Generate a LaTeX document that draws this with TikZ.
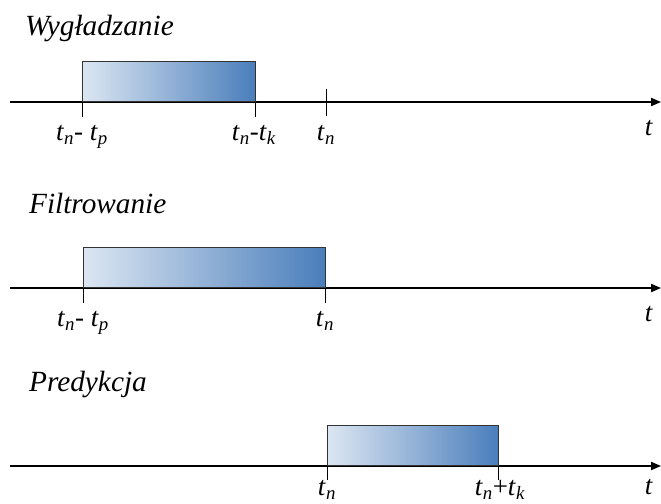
\documentclass[tikz,border=0pt]{standalone}
\usepackage{fontspec}
\setmainfont{Liberation Serif}
\usetikzlibrary{arrows.meta, positioning, calc}

\definecolor{jasny}{HTML}{DCE6F2}
\definecolor{ciemny}{HTML}{4A7EBB}

\newcommand{\ts}[1]{\textit{t}\textsubscript{\textit{#1}}}

\begin{document}
\begin{tikzpicture}[x=0.03cm, y=-0.03cm, >={Triangle[length=8.5pt, width=7pt]},
    os/.style={->, line width=1.2pt},
    okno/.style={draw=black!80, line width=0.8pt, left color=jasny, right color=ciemny,
                 anchor=south west, minimum height=1.2cm, inner sep=0pt},
    kreska/.style={line width=0.8pt},
    opis/.style={font=\fontsize{23}{26}\selectfont, anchor=base},
    tytul/.style={font=\itshape\fontsize{25}{28}\selectfont, anchor=base west}]
    \useasboundingbox (0,0) rectangle (661,504);

    % Wygladzanie
    \node[tytul] (tyt1) at (21,35) {Wygładzanie};
    \coordinate (p1) at (10,102);
    \coordinate (k1) at (661,102);
    \draw[os] (p1) -- (k1);
    \node[okno, minimum width=5.19cm] (b1) at (82,102) {};
    \node[opis] (l1a) at (82,140) {\ts{n}- \ts{p}};
    \node[opis] (l1b) at (254,140) {\ts{n}-\ts{k}};
    \node[opis] (l1c) at (326,140) {\ts{n}};
    \node[opis] (t1) at (649,135) {\textit{t}};
    \draw[kreska] (b1.south west) -- ++(0,15);
    \draw[kreska] (b1.south east) -- ++(0,15);
    \draw[kreska] (l1c |- 0,89) -- (l1c |- 0,116);

    % Filtrowanie
    \node[tytul] (tyt2) at (25,213) {Filtrowanie};
    \coordinate (p2) at (10,288);
    \coordinate (k2) at (661,288);
    \draw[os] (p2) -- (k2);
    \node[okno, minimum width=7.26cm] (b2) at (83,288) {};
    \node[opis] (l2a) at (83,326) {\ts{n}- \ts{p}};
    \node[opis] (l2b) at (325,326) {\ts{n}};
    \node[opis] (t2) at (649,321) {\textit{t}};
    \draw[kreska] (b2.south west) -- ++(0,15);
    \draw[kreska] (b2.south east) -- ++(0,15);

    % Predykcja
    \node[tytul] (tyt3) at (25,391) {Predykcja};
    \coordinate (p3) at (10,466);
    \coordinate (k3) at (661,466);
    \draw[os] (p3) -- (k3);
    \node[okno, minimum width=5.13cm] (b3) at (327,466) {};
    \node[opis] (l3a) at (327,495) {\ts{n}};
    \node[opis] (l3b) at (500,495) {\ts{n}+\ts{k}};
    \node[opis] (t3) at (649,494) {\textit{t}};
    \draw[kreska] (b3.south west) -- ++(0,14);
    \draw[kreska] (b3.south east) -- ++(0,14);
\end{tikzpicture}
\end{document}
